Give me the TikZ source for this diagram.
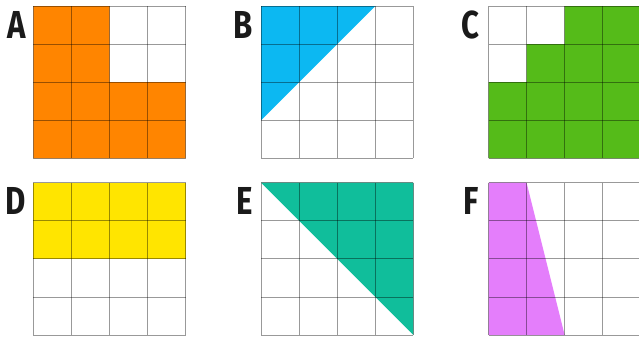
\documentclass[tikz,border=0pt]{standalone}
\usepackage{fontspec}
\newfontfamily\labfont[FakeStretch=0.8]{Fira Sans}
\definecolor{orangec}{HTML}{FF8500}
\definecolor{bluec}{HTML}{0CB8F2}
\definecolor{greenc}{HTML}{55BB19}
\definecolor{yellowc}{HTML}{FFE500}
\definecolor{tealc}{HTML}{10BE9B}
\definecolor{pinkc}{HTML}{E47EFB}
\definecolor{labcol}{HTML}{1A1A1A}
\tikzset{
  gridline/.style={draw=black, draw opacity=0.4, line width=1pt},
  lab/.style={inner sep=0pt, anchor=base east, text=labcol,
    font=\labfont\bfseries\fontsize{39}{39}\selectfont},
  cellsq/.style={x=38.1pt, y=-38.1pt},
}
\newcommand\mygridlines{%
  \foreach \k in {0,1,2,3,4} {
    \draw[gridline] (\k,0) -- (\k,4);
    \draw[gridline] (0,\k) -- (4,\k);
  }%
}
\begin{document}
\begin{tikzpicture}[x=1pt, y=-1pt]
\useasboundingbox (0,0) rectangle (639,338);
% A
\begin{scope}[shift={(33.3,6)}, cellsq]
  \fill[orangec] (0,0) -- (2,0) -- (2,2) -- (4,2) -- (4,4) -- (0,4) -- cycle;
  \mygridlines
\end{scope}
% B
\begin{scope}[shift={(261,6)}, cellsq]
  \fill[bluec] (0,0) -- (3,0) -- (0,3) -- cycle;
  \mygridlines
\end{scope}
% C
\begin{scope}[shift={(488.5,6)}, cellsq]
  \fill[greenc] (2,0) -- (4,0) -- (4,4) -- (0,4) -- (0,2) -- (1,2) -- (1,1) -- (2,1) -- cycle;
  \mygridlines
\end{scope}
% D
\begin{scope}[shift={(33.3,182.7)}, cellsq]
  \fill[yellowc] (0,0) rectangle (4,2);
  \mygridlines
\end{scope}
% E
\begin{scope}[shift={(261,182.7)}, cellsq]
  \fill[tealc] (0,0) -- (4,0) -- (4,4) -- cycle;
  \mygridlines
\end{scope}
% F
\begin{scope}[shift={(488.5,182.7)}, cellsq]
  \fill[pinkc] (0,0) -- (1,0) -- (2,4) -- (0,4) -- cycle;
  \mygridlines
\end{scope}
% labels
\node[lab] (labA) at (26,38.5) {A};
\node[lab] (labB) at (253,38.5) {B};
\node[lab] (labC) at (480,38.5) {C};
\node[lab] (labD) at (26,214.5) {D};
\node[lab] (labE) at (253,214.5) {E};
\node[lab] (labF) at (479,214.5) {F};
\end{tikzpicture}
\end{document}
